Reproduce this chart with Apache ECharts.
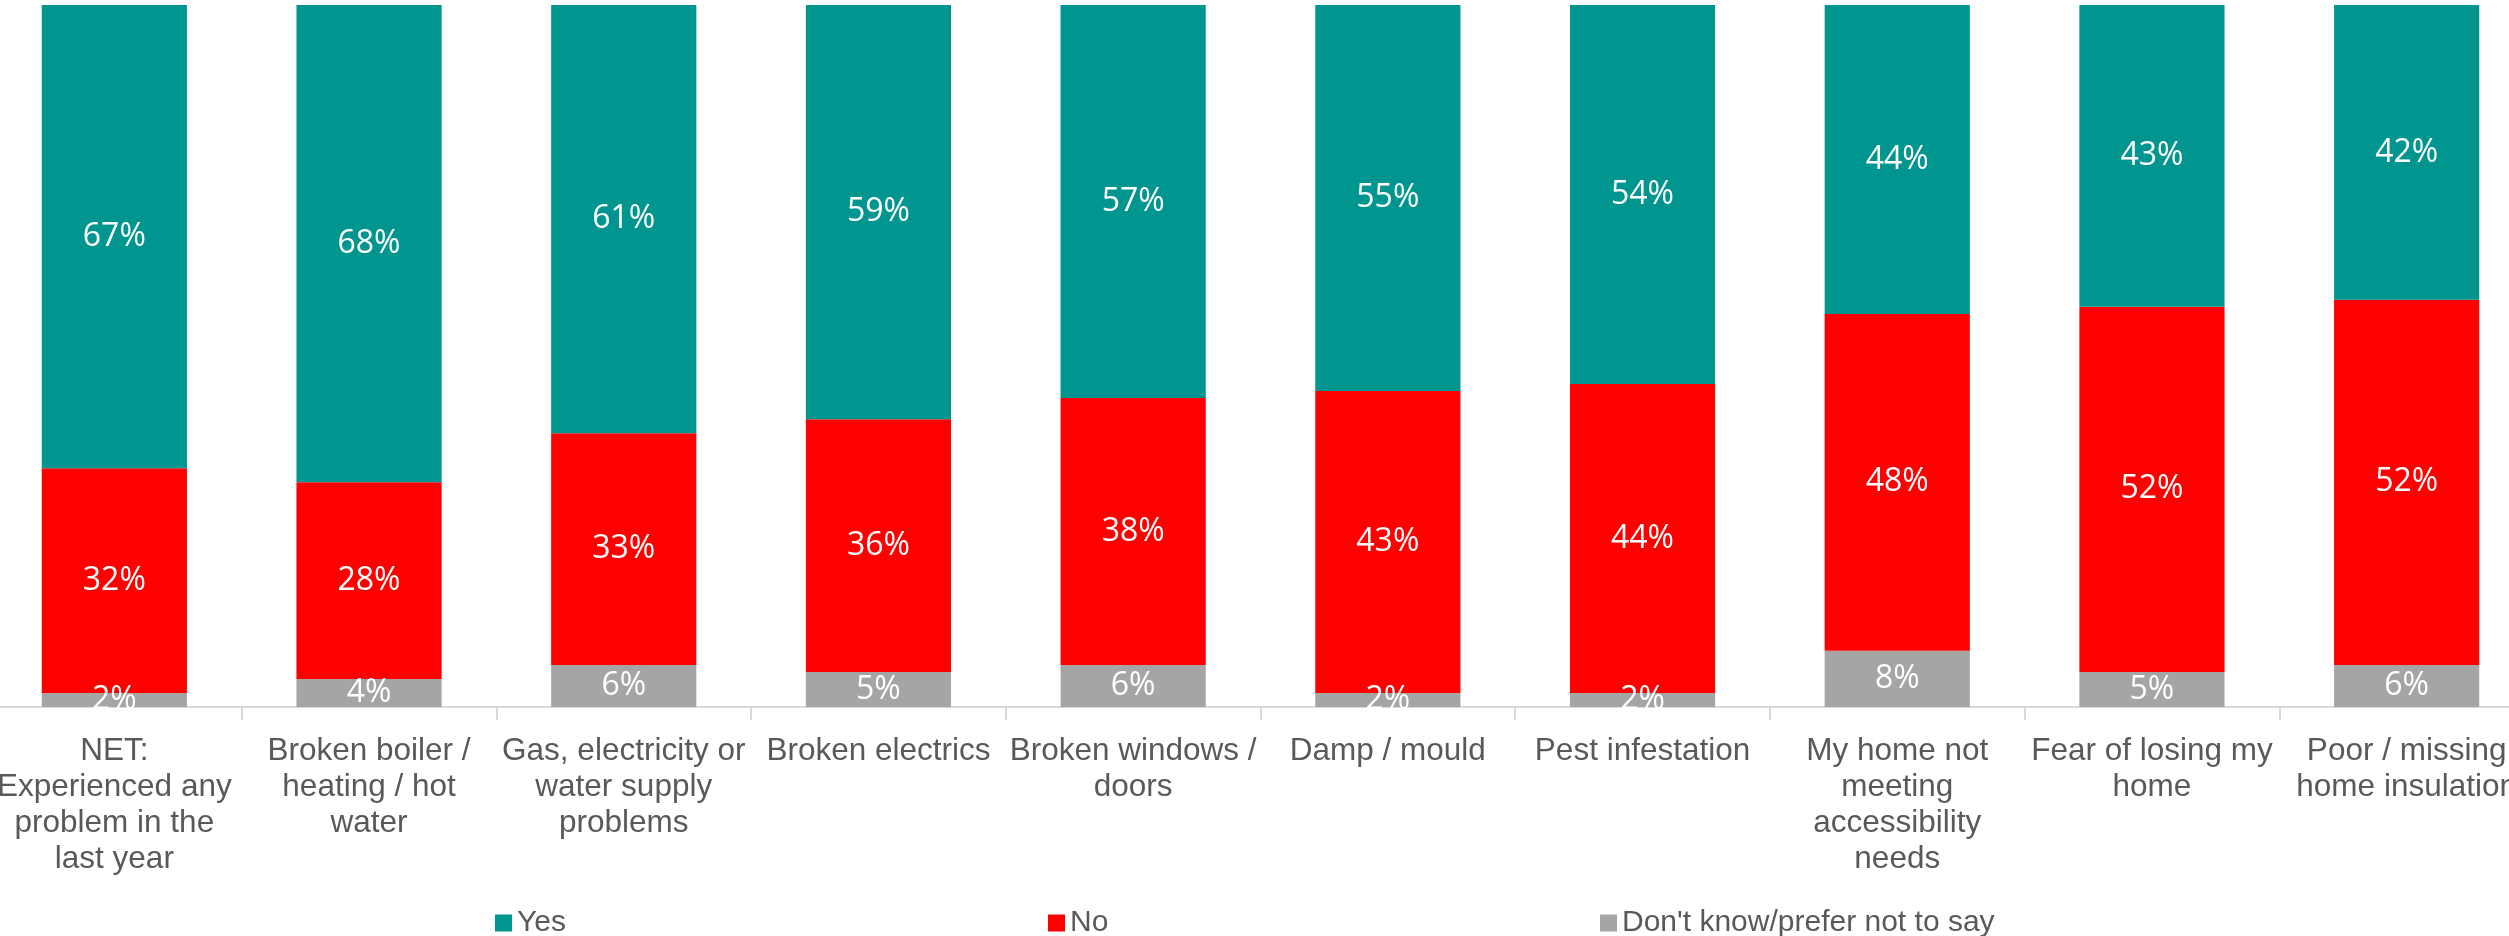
<!DOCTYPE html>
<html>
<head>
<meta charset="utf-8">
<script src="https://cdn.jsdelivr.net/npm/echarts@6/dist/echarts.min.js"></script>
<style>
html,body{margin:0;padding:0;background:#fff;overflow:hidden;width:2509px;height:936px;}
#chart{width:2547px;height:936px;margin-left:-13px;}
</style>
</head>
<body>
<div id="chart"></div>
<script>
const categories = [
  "NET:\nExperienced any\nproblem in the\nlast year",
  "Broken boiler /\nheating / hot\nwater",
  "Gas, electricity or\nwater supply\nproblems",
  "Broken electrics",
  "Broken windows /\ndoors",
  "Damp / mould",
  "Pest infestation",
  "My home not\nmeeting\naccessibility\nneeds",
  "Fear of losing my\nhome",
  "Poor / missing\nhome insulation"
];
const seriesNames = ["Yes", "No", "Don't know/prefer not to say"];
const yesValues = [67, 68, 61, 59, 57, 55, 54, 44, 43, 42];
const noValues = [32, 28, 33, 36, 38, 43, 44, 48, 52, 52];
const dkValues = [2, 4, 6, 5, 6, 2, 2, 8, 5, 6];

const colors = {yes: "#00968F", no: "#FF0000", dk: "#A5A5A5"};
const labelStyle = {
  show: true,
  position: "inside",
  color: "#FFFFFF",
  fontFamily: "Open Sans",
  fontSize: 32,
  formatter: p => p.value + "%"
};

const chart = echarts.init(document.getElementById("chart"), null, {renderer: "canvas"});
const legendText = {color: "#595959", fontFamily: "Liberation Sans", fontSize: 30};
chart.setOption({
  animation: false,
  backgroundColor: "#FFFFFF",
  grid: {left: 0, right: 0, top: 5, bottom: 229, containLabel: false},
  legend: [
    {data: [seriesNames[0]], left: 503, top: 903, itemWidth: 17, itemHeight: 17, itemGap: 0, icon: "rect", textStyle: legendText},
    {data: [seriesNames[1]], left: 1056, top: 903, itemWidth: 17, itemHeight: 17, itemGap: 0, icon: "rect", textStyle: legendText},
    {data: [seriesNames[2]], left: 1608, top: 903, itemWidth: 17, itemHeight: 17, itemGap: 0, icon: "rect", textStyle: legendText}
  ],
  xAxis: {
    type: "category",
    data: categories,
    boundaryGap: true,
    axisLine: {show: true, lineStyle: {color: "#D9D9D9", width: 2}},
    axisTick: {show: true, length: 13, lineStyle: {color: "#D9D9D9", width: 2}},
    axisLabel: {
      interval: 0,
      margin: 26,
      color: "#595959",
      fontFamily: "Liberation Sans",
      fontSize: 31.5,
      lineHeight: 36
    }
  },
  yAxis: {
    type: "value",
    min: 0,
    max: 100,
    show: false,
    splitLine: {show: false}
  },
  series: [
    {name: seriesNames[2], type: "bar", stack: "s", data: dkValues, itemStyle: {color: colors.dk}, label: labelStyle, barCategoryGap: "43%"},
    {name: seriesNames[1], type: "bar", stack: "s", data: noValues, itemStyle: {color: colors.no}, label: labelStyle, barCategoryGap: "43%"},
    {name: seriesNames[0], type: "bar", stack: "s", data: yesValues, itemStyle: {color: colors.yes}, label: labelStyle, barCategoryGap: "43%"}
  ]
});
</script>
</body>
</html>
